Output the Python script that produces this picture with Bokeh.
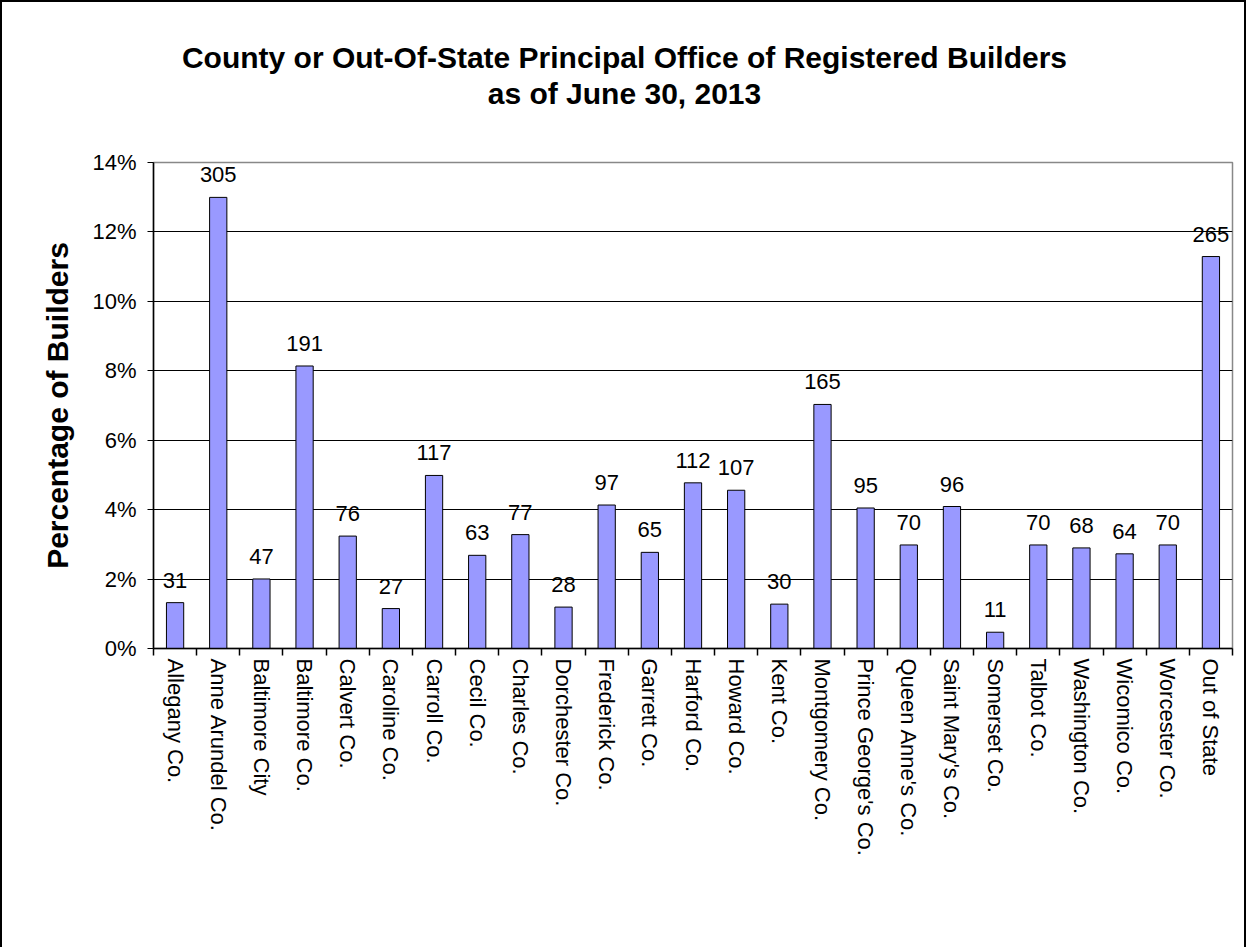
from bokeh.plotting import figure
from bokeh.layouts import column
from bokeh.models import (ColumnDataSource, FixedTicker, NumeralTickFormatter,
                          LabelSet, Range1d)
from bokeh.core.properties import value
from bokeh.embed import file_html
from bokeh.resources import INLINE

counties = ["Allegany Co.", "Anne Arundel Co.", "Baltimore City", "Baltimore Co.",
            "Calvert Co.", "Caroline Co.", "Carroll Co.", "Cecil Co.", "Charles Co.",
            "Dorchester Co.", "Frederick Co.", "Garrett Co.", "Harford Co.", "Howard Co.",
            "Kent Co.", "Montgomery Co.", "Prince George's Co.", "Queen Anne's Co.",
            "Saint Mary's Co.", "Somerset Co.", "Talbot Co.", "Washington Co.",
            "Wicomico Co.", "Worcester Co.", "Out of State"]
builders = [31, 305, 47, 191, 76, 27, 117, 63, 77, 28, 97, 65, 112, 107, 30, 165,
            95, 70, 96, 11, 70, 68, 64, 70, 265]
y_ticks = [0, 0.02, 0.04, 0.06, 0.08, 0.10, 0.12, 0.14]
title_lines = ["County or Out-Of-State Principal Office of Registered Builders",
               "as of June 30, 2013"]

total = sum(builders)
share = [b / total for b in builders]
xpos = [i + 0.5 for i in range(len(counties))]

src = ColumnDataSource(dict(x=xpos, share=share, label=[str(b) for b in builders]))

FONT = "Liberation Sans"
BL, FW, BR = 151, 1079, 12   # left border, frame width, right border
TH = 130                     # height of the title strip

# ---- title strip (pixel coordinates: x from figure left, y from top) ----
th = figure(output_backend="svg", toolbar_location=None,
            x_range=Range1d(BL, BL + FW), y_range=Range1d(TH, 0),
            frame_width=FW, frame_height=TH,
            min_border_left=BL, min_border_right=BR,
            min_border_top=0, min_border_bottom=0)
th.axis.visible = False
th.grid.visible = False
th.outline_line_color = None
th.title.visible = False
th.text(x=[622, 622], y=[55, 91], text=title_lines,
        text_align="center", text_baseline="middle",
        text_font=value(FONT), text_font_size="30px",
        text_font_style="bold", text_color="black")

# ---- main chart ----
p = figure(output_backend="svg", toolbar_location=None,
           x_range=Range1d(0, len(counties)), y_range=Range1d(0, 0.14),
           frame_width=FW, frame_height=486,
           min_border_left=BL, min_border_right=BR,
           min_border_top=160 - TH, min_border_bottom=300)
p.title.visible = False

p.vbar(x="x", top="share", width=0.4, bottom=0, source=src,
       fill_color="#9999FF", line_color="black", line_width=1)

labels = LabelSet(x="x", y="share", text="label", source=src, y_offset=15,
                  text_align="center", text_baseline="bottom",
                  text_font=value(FONT), text_font_size=value("22px"),
                  text_color=value("black"))
p.add_layout(labels)

# y axis
p.yaxis.ticker = FixedTicker(ticks=y_ticks)
p.yaxis.formatter = NumeralTickFormatter(format="0%")
p.yaxis.axis_label = "Percentage of Builders"
p.yaxis.axis_label_text_font = FONT
p.yaxis.axis_label_text_font_size = "30px"
p.yaxis.axis_label_text_font_style = "bold"
p.yaxis.axis_label_text_color = "black"
p.yaxis.axis_label_standoff = 15
p.yaxis.major_label_text_font = FONT
p.yaxis.major_label_text_font_size = "22px"
p.yaxis.major_label_text_color = "black"
p.yaxis.major_tick_out = 6
p.yaxis.major_tick_in = 0
p.yaxis.minor_tick_line_color = None
p.yaxis.axis_line_color = "black"
p.yaxis.axis_line_width = 1.5
p.yaxis.major_label_standoff = 11

# x axis
p.xaxis.ticker = FixedTicker(ticks=xpos, minor_ticks=list(range(len(counties) + 1)))
p.xaxis.major_label_overrides = {x: c for x, c in zip(xpos, counties)}
p.xaxis.major_label_orientation = "vertical"
p.xaxis.major_label_text_font = FONT
p.xaxis.major_label_text_font_size = "22px"
p.xaxis.major_label_text_color = "black"
p.xaxis.major_tick_line_color = None
p.xaxis.minor_tick_out = 7
p.xaxis.minor_tick_in = 0
p.xaxis.minor_tick_line_color = "black"
p.xaxis.minor_tick_line_width = 1.5
p.xaxis.axis_line_color = "black"
p.xaxis.axis_line_width = 1.5
p.xaxis.major_label_standoff = 3

# grid
p.xgrid.grid_line_color = None
p.ygrid.grid_line_color = "black"
p.ygrid.grid_line_width = 1

p.outline_line_color = "#888888"
p.outline_line_width = 1.5
p.background_fill_color = "white"
p.border_fill_color = "white"

layout = column(th, p, spacing=0)
layout.styles = {"border": "2px solid black", "background-color": "white"}

open("out.html", "w").write(file_html(layout, INLINE))
